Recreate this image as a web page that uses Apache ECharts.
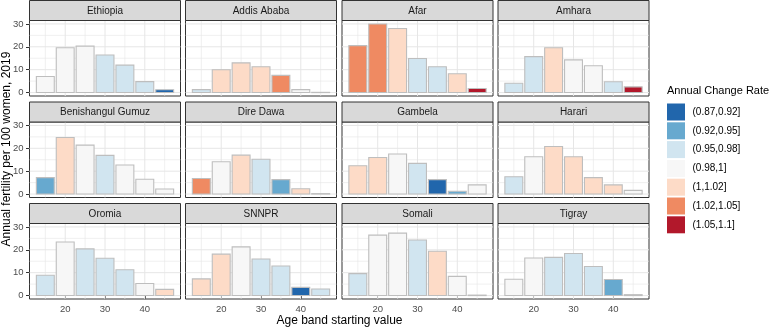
<!DOCTYPE html>
<html>
<head>
<meta charset="utf-8">
<script src="https://cdn.jsdelivr.net/npm/echarts@6/dist/echarts.min.js"></script>
<style>
html, body { margin: 0; padding: 0; background: #fff; }
#chart { width: 778px; height: 329px; }
</style>
</head>
<body>
<div id="chart"></div>
<script>
// age band starting values (x axis)
var ageBands = [15, 20, 25, 30, 35, 40, 45];
var regions = ['Ethiopia', 'Addis Ababa', 'Afar', 'Amhara',
    'Benishangul Gumuz', 'Dire Dawa', 'Gambela', 'Harari',
    'Oromia', 'SNNPR', 'Somali', 'Tigray'];
var rateBins = ['(0.87,0.92]', '(0.92,0.95]', '(0.95,0.98]', '(0.98,1]',
    '(1,1.02]', '(1.02,1.05]', '(1.05,1.1]'];
var xTicks = [20, 30, 40];
var yTicks = [0, 10, 20, 30];
var xMinor = [15, 25, 35, 45];
var yMinor = [5, 15, 25];

// annual fertility per 100 women, one value per age band
var fertEthiopia = [7.0, 19.6, 20.3, 16.4, 12.0, 4.8, 1.2];
var fertAddis    = [1.3, 10.0, 13.0, 11.3, 7.5, 1.3, 0.1];
var fertAfar     = [20.5, 30.0, 28.0, 14.9, 11.3, 8.2, 1.8];
var fertAmhara   = [4.1, 15.7, 19.6, 14.3, 11.7, 4.7, 2.5];
var fertBenish   = [7.2, 24.7, 21.4, 16.9, 12.7, 6.5, 2.2];
var fertDire     = [6.8, 14.1, 17.0, 15.2, 6.3, 2.3, 0.2];
var fertGambela  = [12.4, 16.0, 17.5, 13.4, 6.3, 1.2, 4.0];
var fertHarari   = [7.6, 16.3, 20.8, 16.3, 7.2, 4.0, 1.6];
var fertOromia   = [8.9, 23.4, 20.4, 16.3, 11.3, 5.3, 2.7];
var fertSnnpr    = [7.3, 18.1, 21.3, 16.0, 12.9, 3.6, 2.9];
var fertSomali   = [9.6, 26.4, 27.3, 24.3, 19.4, 8.4, 0.2];
var fertTigray   = [7.1, 16.4, 16.7, 18.4, 12.7, 7.0, 0.4];

// index into rateBins for each bar
var binEthiopia = [3, 3, 3, 2, 2, 2, 0];
var binAddis    = [2, 4, 4, 4, 5, 3, 3];
var binAfar     = [5, 5, 4, 2, 2, 4, 6];
var binAmhara   = [2, 2, 4, 3, 3, 2, 6];
var binBenish   = [1, 4, 3, 2, 3, 3, 3];
var binDire     = [5, 3, 4, 2, 1, 4, 3];
var binGambela  = [4, 4, 3, 2, 0, 1, 3];
var binHarari   = [2, 3, 4, 4, 4, 4, 3];
var binOromia   = [2, 3, 2, 2, 2, 3, 4];
var binSnnpr    = [4, 4, 3, 2, 2, 0, 2];
var binSomali   = [2, 3, 3, 2, 4, 3, 3];
var binTigray   = [3, 3, 2, 2, 2, 1, 3];

var fertility = [fertEthiopia, fertAddis, fertAfar, fertAmhara, fertBenish, fertDire,
    fertGambela, fertHarari, fertOromia, fertSnnpr, fertSomali, fertTigray];
var bins = [binEthiopia, binAddis, binAfar, binAmhara, binBenish, binDire,
    binGambela, binHarari, binOromia, binSnnpr, binSomali, binTigray];

var binColors = ['#2166AC', '#67A9CF', '#D1E5F0', '#F7F7F7', '#FDDBC7', '#EF8A62', '#B2182B'];

var FONT = '"Liberation Sans", Arial, sans-serif';
var colLeft = [29.5, 185.5, 342, 498];
var panelW = 151;
var stripTop = [0.5, 102, 203.5];
var stripH = 20, plotH = 75.5;
var xMin = 11.025, xMax = 48.975, yMin = -1.5, yMax = 31.5, halfBar = 2.25;

// grid lines: [x, y, vertical?, major?]
var gridLines = [];
xTicks.forEach(function (v) { gridLines.push([v, 10, 1, 1]); });
xMinor.forEach(function (v) { gridLines.push([v, 10, 1, 0]); });
yTicks.forEach(function (v) { gridLines.push([20, v, 0, 1]); });
yMinor.forEach(function (v) { gridLines.push([20, v, 0, 0]); });

var renderGrid = function (params, api) {
    var cs = params.coordSys;
    var p = api.coord([api.value(0), api.value(1)]);
    var shape;
    if (api.value(2) === 1) {
        shape = {x1: p[0], y1: cs.y, x2: p[0], y2: cs.y + cs.height};
    } else {
        shape = {x1: cs.x, y1: p[1], x2: cs.x + cs.width, y2: p[1]};
    }
    return {
        type: 'line',
        shape: shape,
        style: {stroke: '#E6E6E6', lineWidth: api.value(3) === 1 ? 1 : 0.6}
    };
};

var renderBar = function (params, api) {
    var lt = api.coord([api.value(0) - halfBar, api.value(1)]);
    var rb = api.coord([api.value(0) + halfBar, 0]);
    return {
        type: 'rect',
        shape: {x: lt[0], y: lt[1], width: rb[0] - lt[0], height: rb[1] - lt[1]},
        style: {fill: binColors[api.value(2)], stroke: '#BEBEBE', lineWidth: 1.1}
    };
};

var grids = [], xAxes = [], yAxes = [], series = [], graphics = [];

regions.forEach(function (name, i) {
    var r = Math.floor(i / 4), c = i % 4;
    var left = colLeft[c], top = stripTop[r] + stripH;
    grids.push({
        left: left, top: top, width: panelW, height: plotH,
        show: true, backgroundColor: 'transparent', borderColor: '#333333', borderWidth: 1
    });
    xAxes.push({
        type: 'value', gridIndex: i, min: xMin, max: xMax,
        axisLine: {show: false}, splitLine: {show: false},
        axisTick: {show: r === 2, customValues: xTicks, length: 3.5, lineStyle: {color: '#333333'}},
        axisLabel: {show: r === 2, customValues: xTicks, margin: 5, color: '#4D4D4D', fontSize: 9.5, fontFamily: FONT}
    });
    yAxes.push({
        type: 'value', gridIndex: i, min: yMin, max: yMax,
        axisLine: {show: false}, splitLine: {show: false},
        axisTick: {show: c === 0, customValues: yTicks, length: 3.5, lineStyle: {color: '#333333'}},
        axisLabel: {show: c === 0, customValues: yTicks, margin: 6, color: '#4D4D4D', fontSize: 9.5, fontFamily: FONT}
    });
    series.push({
        type: 'custom', xAxisIndex: i, yAxisIndex: i, silent: true, z: 1,
        renderItem: renderGrid, data: gridLines
    });
    var barData = ageBands.map(function (a, k) {
        return [a, fertility[i][k], bins[i][k]];
    });
    series.push({
        type: 'custom', xAxisIndex: i, yAxisIndex: i, silent: true, z: 2,
        renderItem: renderBar, data: barData
    });
    // facet strip
    graphics.push({
        type: 'rect', shape: {x: left, y: stripTop[r], width: panelW, height: stripH},
        style: {fill: '#D9D9D9', stroke: '#333333', lineWidth: 1}, z: 10
    });
    graphics.push({
        type: 'text', x: left + panelW / 2, y: stripTop[r] + stripH / 2 + 0.5, z: 11,
        style: {text: name, fill: '#1A1A1A', font: '10px ' + FONT, textAlign: 'center', textVerticalAlign: 'middle'}
    });
});

// axis titles
graphics.push({
    type: 'text', x: 7, y: 149, rotation: Math.PI / 2,
    style: {text: 'Annual fertility per 100 women, 2019', fill: '#000', font: '12px ' + FONT, textAlign: 'center', textVerticalAlign: 'middle'}
});
graphics.push({
    type: 'text', x: 339.5, y: 321,
    style: {text: 'Age band starting value', fill: '#000', font: '12px ' + FONT, textAlign: 'center', textVerticalAlign: 'middle'}
});

// legend
graphics.push({
    type: 'text', x: 667, y: 91,
    style: {text: 'Annual Change Rate', fill: '#000', font: '11px ' + FONT, textVerticalAlign: 'middle'}
});
rateBins.forEach(function (lab, k) {
    var y = 103.5 + k * 18.8;
    graphics.push({
        type: 'rect', shape: {x: 667, y: y, width: 18, height: 17},
        style: {fill: binColors[k]}
    });
    graphics.push({
        type: 'text', x: 692.5, y: y + 8.5,
        style: {text: lab, fill: '#000', font: '10px ' + FONT, textVerticalAlign: 'middle'}
    });
});

var chart = echarts.init(document.getElementById('chart'));
chart.setOption({
    animation: false,
    backgroundColor: '#fff',
    grid: grids,
    xAxis: xAxes,
    yAxis: yAxes,
    series: series,
    graphic: graphics
});
</script>
</body>
</html>
